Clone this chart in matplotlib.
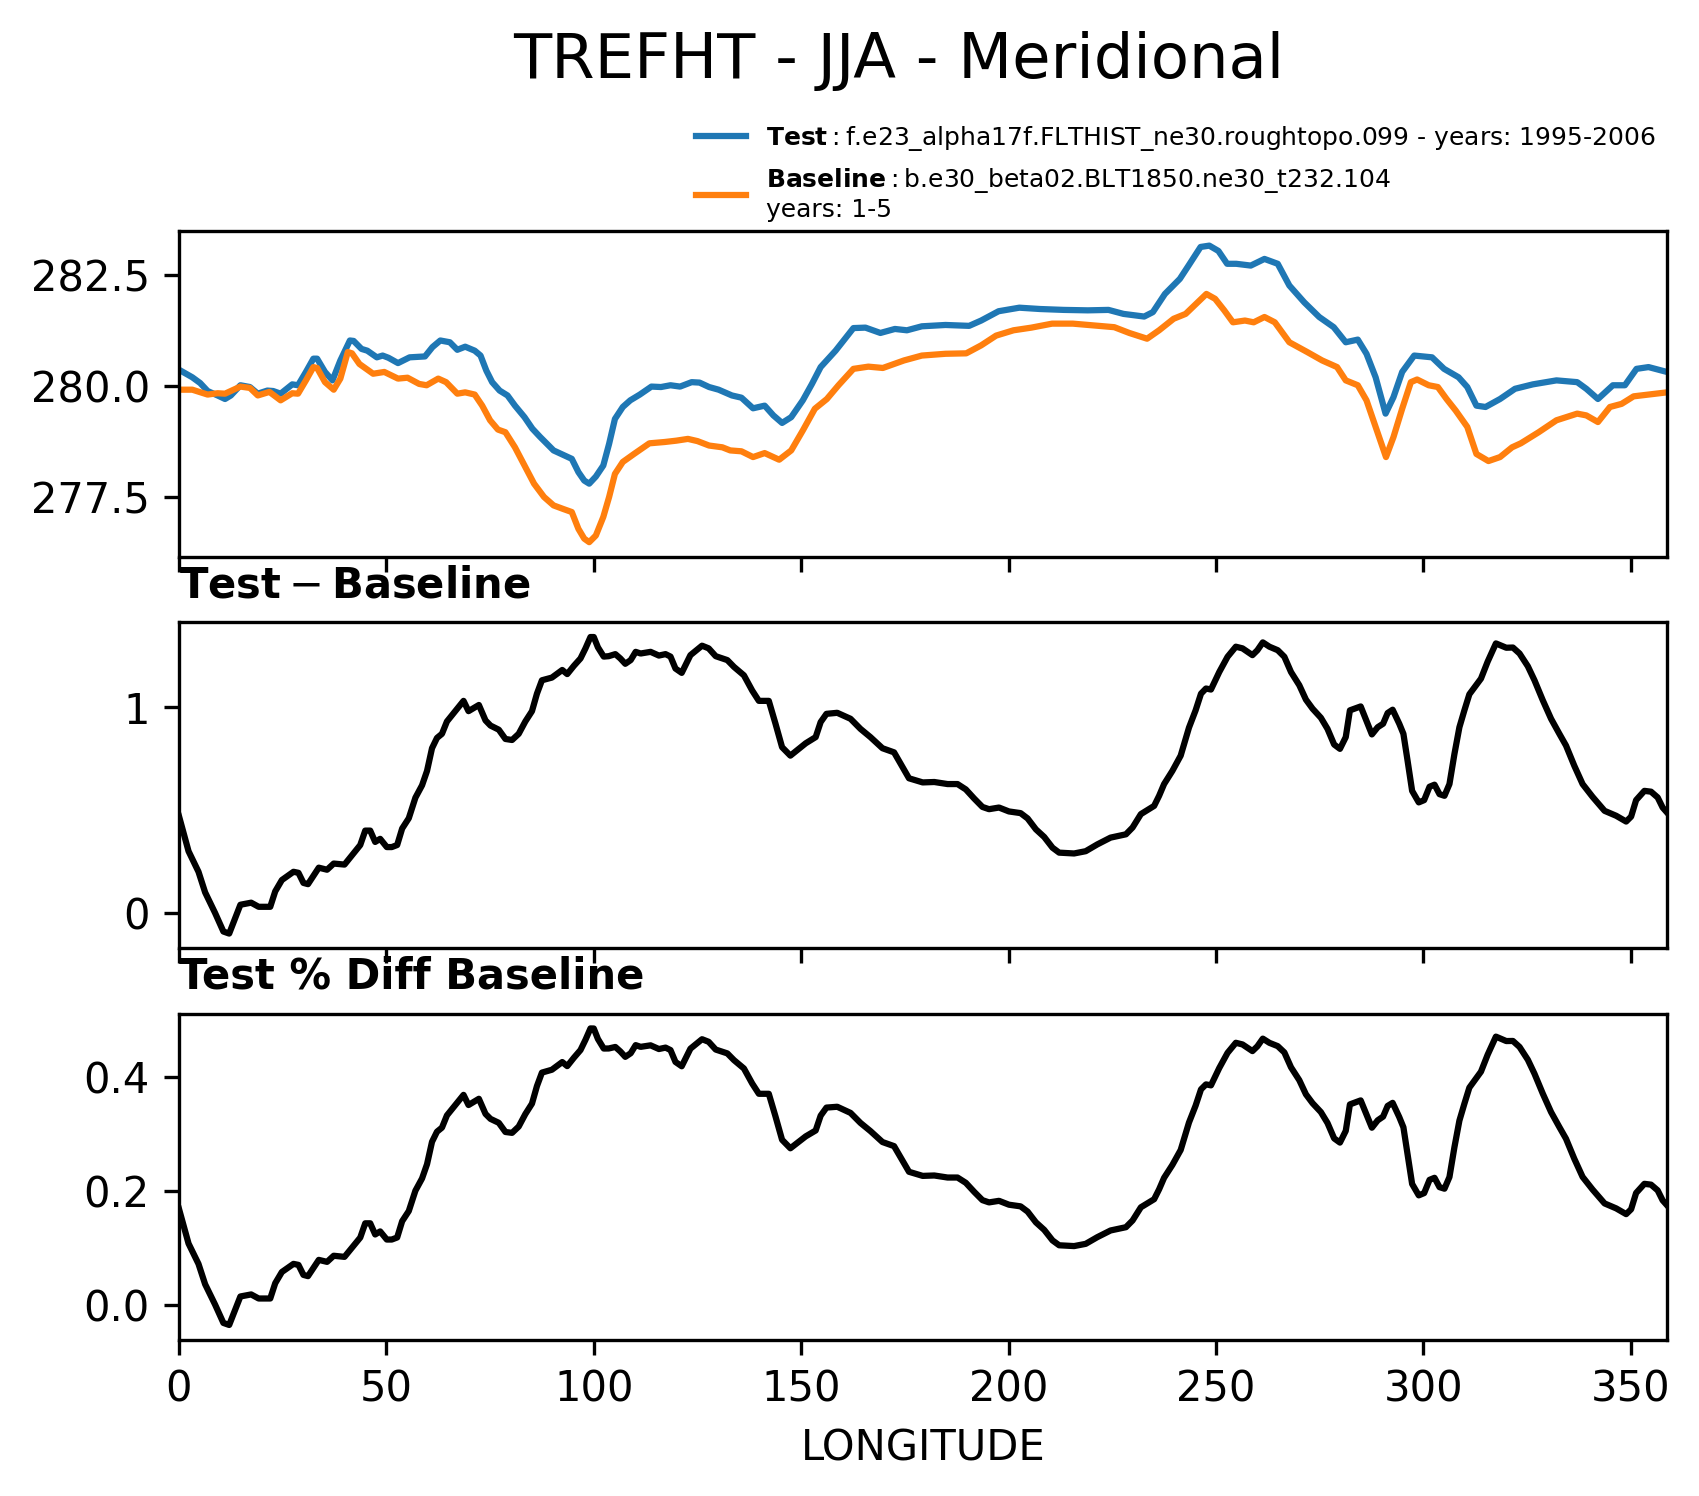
import numpy as np
import matplotlib
matplotlib.use("Agg")
import matplotlib.pyplot as plt
from matplotlib.lines import Line2D

# ---------------- data ----------------
title = "TREFHT - JJA - Meridional"
test_name = "f.e23_alpha17f.FLTHIST_ne30.roughtopo.099 - years: 1995-2006"
base_name = "b.e30_beta02.BLT1850.ne30_t232.104\nyears: 1-5"
xlabel = "LONGITUDE"

test_lon = [0.0, 3.2, 5.1, 6.9, 9.3, 11.1, 12.5, 14.8, 17.1, 19.0, 21.3, 22.7, 24.5, 27.3, 28.7,
            30.6, 32.4, 33.3, 35.2, 37.0, 38.9, 41.2, 42.1, 44.0, 45.4, 47.7, 49.1, 50.5, 52.8,
            55.6, 59.3, 61.1, 63.0, 65.3, 67.1, 69.0, 71.3, 72.7, 74.1, 75.5, 77.3, 79.2, 81.0,
            83.3, 85.2, 87.0, 90.3, 94.7, 96.3, 97.7, 98.9, 100.5, 102.3, 103.7, 105.1, 107.0,
            108.8, 111.1, 113.9, 116.2, 118.5, 120.8, 123.6, 125.5, 127.8, 130.1, 133.3, 135.6,
            138.4, 141.2, 143.3, 145.4, 147.6, 150.4, 152.6, 154.7, 158.3, 162.6, 165.5, 169.1,
            172.6, 175.5, 179.1, 184.8, 190.5, 193.4, 197.6, 202.6, 207.6, 213.3, 219.1, 224.1,
            227.7, 232.7, 234.8, 237.7, 241.3, 243.4, 246.3, 248.4, 250.6, 252.7, 254.9, 258.4,
            261.7, 264.9, 267.7, 271.3, 274.9, 278.4, 281.3, 284.2, 286.3, 288.5, 290.9, 292.8,
            294.9, 297.8, 302.1, 305.0, 308.5, 310.6, 312.8, 315.0, 318.5, 322.1, 326.4, 332.1,
            337.1, 339.3, 342.1, 345.7, 348.6, 351.4, 354.3, 358.75]
test_val = [280.37, 280.20, 280.07, 279.89, 279.79, 279.71, 279.79, 280.02, 279.98, 279.83, 279.90,
            279.89, 279.83, 280.04, 280.02, 280.32, 280.62, 280.62, 280.32, 280.13, 280.58, 281.03,
            281.02, 280.84, 280.80, 280.65, 280.69, 280.64, 280.52, 280.65, 280.67, 280.88, 281.03,
            280.99, 280.82, 280.89, 280.80, 280.69, 280.35, 280.09, 279.90, 279.79, 279.56, 279.30,
            279.04, 278.86, 278.55, 278.36, 278.06, 277.87, 277.80, 277.96, 278.21, 278.70, 279.26,
            279.53, 279.68, 279.81, 279.99, 279.98, 280.02, 279.99, 280.09, 280.08, 279.98, 279.92,
            279.79, 279.74, 279.50, 279.56, 279.34, 279.17, 279.30, 279.68, 280.05, 280.43, 280.80,
            281.31, 281.32, 281.20, 281.29, 281.26, 281.35, 281.38, 281.36, 281.48, 281.69, 281.77,
            281.74, 281.72, 281.71, 281.72, 281.63, 281.57, 281.67, 282.08, 282.42, 282.72, 283.14,
            283.17, 283.05, 282.76, 282.76, 282.72, 282.87, 282.76, 282.27, 281.89, 281.56, 281.33,
            280.99, 281.05, 280.73, 280.20, 279.38, 279.75, 280.32, 280.69, 280.65, 280.39, 280.20,
            279.98, 279.56, 279.53, 279.71, 279.94, 280.04, 280.13, 280.09, 279.94, 279.71, 280.02,
            280.02, 280.39, 280.43, 280.32]

base_lon = [0.0, 3.2, 6.9, 9.3, 11.1, 14.8, 17.1, 19.0, 21.8, 24.5, 27.3, 28.7, 30.6, 32.4, 33.3,
            35.2, 37.3, 38.9, 40.7, 41.7, 43.5, 46.8, 49.5, 52.8, 55.1, 57.9, 59.7, 62.5, 64.4,
            67.1, 69.0, 71.3, 73.1, 75.0, 76.9, 78.7, 81.0, 83.3, 85.6, 88.0, 90.3, 92.6, 94.7,
            96.3, 97.7, 98.9, 100.5, 102.3, 103.7, 105.1, 107.0, 109.7, 113.4, 117.1, 119.9,
            122.7, 125.0, 127.8, 131.0, 132.9, 135.6, 138.4, 141.2, 144.7, 147.6, 150.4, 153.3,
            156.2, 159.0, 162.6, 166.2, 169.7, 174.8, 179.1, 184.8, 189.8, 193.4, 197.0, 201.2,
            205.5, 210.5, 215.5, 220.5, 225.5, 229.1, 233.4, 236.3, 239.8, 242.7, 245.6, 247.7,
            249.8, 252.0, 254.1, 257.0, 259.1, 261.7, 264.2, 267.7, 272.0, 275.6, 279.2, 281.3,
            284.2, 286.3, 288.5, 291.0, 292.8, 294.9, 297.0, 298.5, 301.3, 303.5, 305.6, 307.8,
            310.6, 312.8, 315.7, 318.5, 321.4, 323.5, 327.8, 332.1, 337.1, 339.3, 342.1, 345.0,
            347.8, 350.7, 354.3, 358.75]
base_val = [279.92, 279.92, 279.81, 279.84, 279.83, 279.99, 279.96, 279.79, 279.87, 279.68, 279.84,
            279.83, 280.13, 280.43, 280.41, 280.09, 279.92, 280.17, 280.77, 280.74, 280.50, 280.28,
            280.32, 280.17, 280.19, 280.05, 280.02, 280.17, 280.09, 279.83, 279.86, 279.81, 279.56,
            279.23, 279.02, 278.96, 278.62, 278.21, 277.80, 277.50, 277.31, 277.23, 277.16, 276.78,
            276.56, 276.48, 276.63, 277.05, 277.50, 278.02, 278.29, 278.47, 278.71, 278.74, 278.77,
            278.81, 278.76, 278.66, 278.62, 278.55, 278.53, 278.40, 278.49, 278.34, 278.55, 279.00,
            279.49, 279.71, 280.02, 280.39, 280.44, 280.41, 280.58, 280.69, 280.73, 280.74, 280.92,
            281.14, 281.26, 281.32, 281.41, 281.41, 281.37, 281.33, 281.20, 281.07, 281.26, 281.52,
            281.63, 281.89, 282.08, 281.97, 281.71, 281.44, 281.48, 281.44, 281.56, 281.44, 280.99,
            280.77, 280.58, 280.43, 280.13, 280.02, 279.68, 279.08, 278.40, 278.85, 279.49, 280.09,
            280.15, 280.02, 279.98, 279.71, 279.45, 279.08, 278.47, 278.31, 278.40, 278.62, 278.71,
            278.96, 279.23, 279.38, 279.34, 279.19, 279.53, 279.60, 279.77, 279.81, 279.86]

diff_lon = [0.0, 2.3, 4.7, 6.3, 8.7, 10.7, 12.1, 14.8, 17.4, 19.2, 22.0, 23.2, 24.8, 27.6, 28.8,
            30.0, 31.1, 33.7, 35.7, 37.3, 39.9, 41.7, 43.7, 44.9, 46.1, 47.3, 48.5, 50.1, 51.3,
            52.6, 53.8, 55.4, 57.0, 58.6, 59.8, 61.0, 62.2, 63.4, 64.6, 66.6, 68.6, 69.8, 72.3,
            73.9, 75.1, 77.1, 78.7, 80.3, 81.9, 83.5, 85.1, 86.3, 87.5, 89.9, 92.4, 93.6, 95.2,
            96.8, 98.0, 99.2, 100.0, 101.0, 102.4, 103.6, 105.2, 106.4, 107.6, 108.9, 110.1,
            111.3, 113.7, 115.7, 117.3, 118.5, 119.7, 121.2, 123.3, 126.1, 127.7, 129.4, 132.2,
            133.8, 136.2, 138.2, 139.8, 142.2, 143.8, 145.4, 147.4, 149.0, 151.1, 153.5, 154.7,
            156.1, 158.7, 161.9, 164.3, 166.7, 169.6, 172.4, 174.0, 176.0, 179.3, 182.1, 185.3,
            187.7, 189.7, 191.7, 193.7, 195.3, 197.7, 200.1, 202.9, 204.6, 206.6, 208.6, 210.6,
            212.2, 215.8, 218.6, 221.4, 224.6, 228.3, 229.9, 231.9, 235.1, 236.3, 237.5, 239.5,
            241.5, 243.5, 245.1, 246.4, 247.6, 248.8, 250.8, 252.8, 254.8, 256.4, 258.8, 260.0,
            261.3, 262.9, 264.9, 266.5, 268.1, 270.1, 271.7, 273.3, 275.3, 276.9, 278.5, 279.9,
            281.3, 282.3, 284.9, 286.1, 287.6, 289.0, 290.3, 291.4, 292.6, 294.2, 295.2, 296.2,
            297.3, 298.9, 300.2, 301.5, 302.7, 303.9, 305.1, 306.3, 307.5, 308.7, 309.9, 311.1,
            313.9, 315.5, 317.5, 320.0, 321.6, 323.2, 325.2, 326.8, 328.8, 330.8, 332.8, 334.4,
            336.4, 338.4, 340.8, 343.7, 346.5, 348.9, 350.1, 351.3, 353.3, 354.9, 356.5, 357.7,
            358.75]
diff_val = [0.47, 0.30, 0.20, 0.10, 0.00, -0.09, -0.10, 0.04, 0.05, 0.03, 0.03, 0.105, 0.16, 0.20,
            0.195, 0.146, 0.14, 0.22, 0.21, 0.24, 0.235, 0.28, 0.33, 0.40, 0.40, 0.345, 0.36, 0.32,
            0.32, 0.33, 0.41, 0.46, 0.56, 0.62, 0.69, 0.80, 0.85, 0.87, 0.93, 0.98, 1.03, 0.98,
            1.01, 0.935, 0.91, 0.89, 0.845, 0.84, 0.87, 0.93, 0.98, 1.065, 1.13, 1.143, 1.18, 1.16,
            1.20, 1.236, 1.285, 1.34, 1.34, 1.29, 1.245, 1.247, 1.257, 1.236, 1.21, 1.228, 1.268,
            1.26, 1.268, 1.25, 1.257, 1.245, 1.187, 1.166, 1.252, 1.298, 1.285, 1.247, 1.228,
            1.195, 1.154, 1.08, 1.03, 1.03, 0.92, 0.805, 0.764, 0.79, 0.824, 0.854, 0.927, 0.967,
            0.972, 0.943, 0.894, 0.854, 0.80, 0.78, 0.724, 0.654, 0.634, 0.636, 0.626, 0.626, 0.60,
            0.556, 0.515, 0.504, 0.512, 0.493, 0.485, 0.459, 0.406, 0.369, 0.317, 0.293, 0.289,
            0.30, 0.333, 0.366, 0.382, 0.415, 0.48, 0.52, 0.569, 0.626, 0.69, 0.764, 0.90, 0.984,
            1.065, 1.09, 1.085, 1.17, 1.244, 1.293, 1.285, 1.252, 1.276, 1.314, 1.293, 1.276,
            1.244, 1.17, 1.106, 1.036, 0.992, 0.948, 0.894, 0.818, 0.797, 0.854, 0.984, 1.003,
            0.943, 0.867, 0.902, 0.919, 0.971, 0.987, 0.919, 0.87, 0.74, 0.593, 0.537, 0.548,
            0.613, 0.623, 0.577, 0.569, 0.626, 0.772, 0.902, 0.984, 1.062, 1.138, 1.22, 1.309,
            1.288, 1.289, 1.26, 1.198, 1.13, 1.033, 0.943, 0.87, 0.813, 0.715, 0.626, 0.564,
            0.496, 0.472, 0.444, 0.468, 0.548, 0.593, 0.589, 0.561, 0.512, 0.488]

# percent difference relative to the baseline
diff_lon_a = np.array(diff_lon)
diff_val_a = np.array(diff_val)
base_on_diff = np.interp(diff_lon_a, base_lon, base_val)
pct_val = 100.0 * diff_val_a / base_on_diff

# ---------------- figure ----------------
W, H, DPI = 1699, 1496, 300
fig = plt.figure(figsize=(W / DPI, H / DPI), dpi=DPI)

left = 179 / W
width = 1488 / W
height = 326.2 / H
ax1 = fig.add_axes([left, 1 - 557.0 / H, width, height])
ax2 = fig.add_axes([left, 1 - 948.4 / H, width, height])
ax3 = fig.add_axes([left, 1 - 1339.8 / H, width, height])

ax1.plot(test_lon, test_val, color="#1f77b4", linewidth=1.5)
ax1.plot(base_lon, base_val, color="#ff7f0e", linewidth=1.5)
ax2.plot(diff_lon, diff_val, color="k", linewidth=1.5)
ax3.plot(diff_lon_a, pct_val, color="k", linewidth=1.5)

for ax in (ax1, ax2, ax3):
    ax.set_xlim(0, 358.75)
for ax in (ax1, ax2):
    ax.tick_params(labelbottom=False)

ax2.set_title(r"$\mathbf{Test} - \mathbf{Baseline}$", loc="left", fontsize=10)
ax3.set_title("Test % Diff Baseline", loc="left", fontsize=10, fontweight="bold")
ax3.set_xlabel(xlabel)

fig.text(899 / W, 1 - 78 / H, title, ha="center", va="baseline", fontsize=15)

line1 = Line2D([0], [0], color="#1f77b4", linewidth=1.5,
               label=r"$\mathbf{Test}:$" + test_name)
line2 = Line2D([0], [0], color="#ff7f0e", linewidth=1.5,
               label=r"$\mathbf{Baseline}:$" + base_name)
fig.legend(handles=[line1, line2], loc="upper left",
           bbox_to_anchor=(685.6 / W, 1 - 114 / H), borderaxespad=0.0,
           fontsize=6, frameon=False)

fig.savefig("out.png", dpi=DPI)
